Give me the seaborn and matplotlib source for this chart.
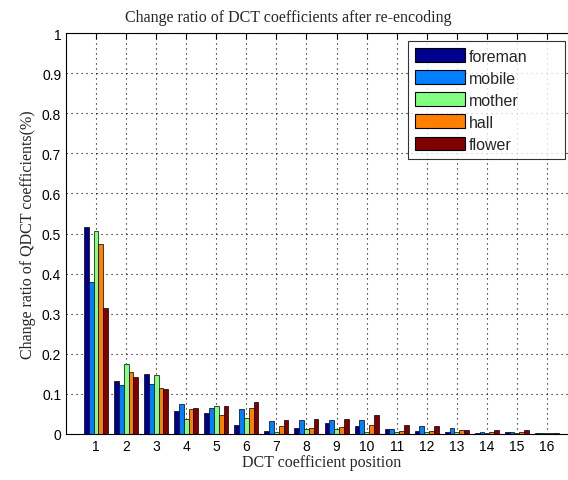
import matplotlib
matplotlib.use("Agg")
import matplotlib.pyplot as plt
import seaborn as sns
import pandas as pd

positions = [str(i) for i in range(1, 17)]
series_names = ["foreman", "mobile", "mother", "hall", "flower"]
foreman = [0.515, 0.131, 0.149, 0.058, 0.053, 0.023, 0.007, 0.015, 0.027, 0.021, 0.012, 0.007, 0.005, 0.003, 0.006, 0.002]
mobile  = [0.380, 0.122, 0.125, 0.076, 0.064, 0.062, 0.032, 0.036, 0.035, 0.036, 0.012, 0.021, 0.015, 0.006, 0.006, 0.002]
mother  = [0.505, 0.175, 0.146, 0.037, 0.070, 0.041, 0.005, 0.012, 0.012, 0.004, 0.005, 0.006, 0.005, 0.003, 0.002, 0.002]
hall    = [0.475, 0.155, 0.114, 0.062, 0.047, 0.064, 0.020, 0.015, 0.017, 0.023, 0.007, 0.007, 0.009, 0.006, 0.006, 0.003]
flower  = [0.315, 0.143, 0.111, 0.066, 0.071, 0.079, 0.036, 0.038, 0.038, 0.047, 0.023, 0.021, 0.011, 0.009, 0.011, 0.003]
colors = ["#00008F", "#0080FF", "#80FF80", "#FF8000", "#800000"]
yticks = [0, 0.1, 0.2, 0.3, 0.4, 0.5, 0.6, 0.7, 0.8, 0.9, 1]
ytick_labels = ["0", "0.1", "0.2", "0.3", "0.4", "0.5", "0.6", "0.7", "0.8", "0.9", "1"]

rows = []
for name, vals in zip(series_names, [foreman, mobile, mother, hall, flower]):
    for p, v in zip(positions, vals):
        rows.append({"position": p, "series": name, "value": v})
df = pd.DataFrame(rows)

sns.set_style("white")
plt.rcParams["font.family"] = ["Liberation Sans", "DejaVu Sans"]

fig = plt.figure(figsize=(5.68, 4.81), dpi=100)
ax = fig.add_axes([66 / 568, 1 - 435 / 481, (577 - 66) / 568, (435 - 34) / 481])

sns.barplot(data=df, x="position", y="value", hue="series", order=positions,
            hue_order=series_names, palette=colors, width=0.8, ax=ax,
            edgecolor="black", linewidth=0.5, saturation=1, errorbar=None)

ax.set_xlim(-1, 16)
ax.set_ylim(0, 1)
ax.set_yticks(yticks)
ax.set_yticklabels(ytick_labels)
ax.tick_params(direction="in", length=4, width=0.8, labelsize=10, top=True, right=True, colors="black")
ax.grid(True, linestyle=(0, (1, 3.5)), color="black", linewidth=0.8)
ax.set_axisbelow(True)
for s in ax.spines.values():
    s.set_color("black")
    s.set_linewidth(0.8)

serif = ["Liberation Serif", "DejaVu Serif"]
ax.set_title("Change ratio of DCT coefficients after re-encoding", family=serif,
             fontsize=11.5, pad=9, x=(288 - 66) / (577 - 66))
ax.set_xlabel("DCT coefficient position", family=serif, fontsize=11.5, labelpad=1)
ax.set_ylabel("Change ratio of QDCT coefficients(%)", family=serif, fontsize=11.5, labelpad=4)

aw = 577 - 66
x0 = (408 - 66) / aw
x1 = (565 - 66) / aw
ytop = 1 - 8 / 401
leg = ax.legend(loc="upper left", bbox_to_anchor=(x0, ytop - 0.3, x1 - x0, 0.3), mode="expand",
                fontsize=11.5, frameon=True, fancybox=False, edgecolor="black",
                handlelength=3.1, handleheight=0.95, handletextpad=0.25,
                labelspacing=0.42, borderpad=0.45, borderaxespad=0)
leg.get_frame().set_linewidth(0.8)
for h in leg.legend_handles:
    h.set_edgecolor("black")
    h.set_linewidth(0.8)

fig.savefig("out.png", dpi=100)
